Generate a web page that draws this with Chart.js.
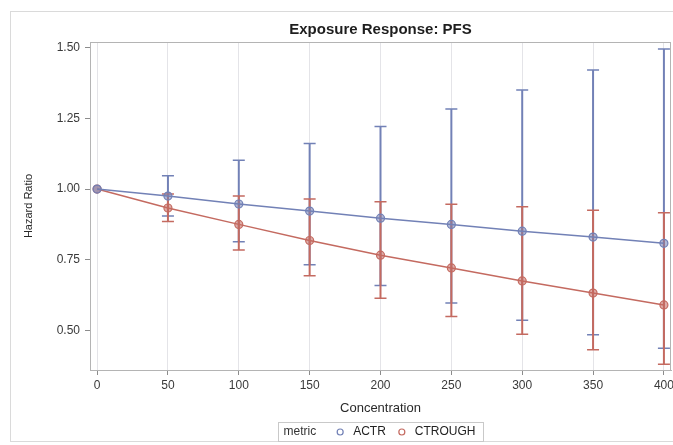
<!DOCTYPE html>
<html>
<head>
<meta charset="utf-8">
<title>Exposure Response: PFS</title>
<script src="https://cdn.jsdelivr.net/npm/chart.js@4"></script>
<style>
  html, body { margin: 0; padding: 0; background: #fff; overflow: hidden; }
  #wrap { position: relative; width: 673px; height: 445px; }
  canvas { display: block; }
</style>
</head>
<body>
<div id="wrap"><canvas id="hrChart"></canvas></div>
<script>
const concentration = [0, 50, 100, 150, 200, 250, 300, 350, 400];

const actrHR    = [1.00, 0.975, 0.947, 0.922, 0.897, 0.875, 0.851, 0.830, 0.808];
const actrLower = [1.00, 0.905, 0.814, 0.732, 0.659, 0.597, 0.536, 0.485, 0.437];
const actrUpper = [1.00, 1.047, 1.102, 1.161, 1.221, 1.283, 1.350, 1.421, 1.495];

const ctroughHR    = [1.00, 0.933, 0.875, 0.818, 0.766, 0.721, 0.675, 0.632, 0.590];
const ctroughLower = [1.00, 0.885, 0.784, 0.693, 0.614, 0.549, 0.486, 0.432, 0.380];
const ctroughUpper = [1.00, 0.982, 0.975, 0.965, 0.955, 0.946, 0.937, 0.925, 0.916];

const xTicks = [0, 50, 100, 150, 200, 250, 300, 350, 400];
const yTicks = [0.50, 0.75, 1.00, 1.25, 1.50];

const blue = "#7281b6";
const red = "#c46a60";

Chart.defaults.font.family = "'Liberation Sans', Arial, sans-serif";

function toPoints(ys) {
  return concentration.map((c, i) => ({ x: c, y: ys[i] }));
}

// vertical whiskers with caps, drawn under the lines and markers
const errorBars = {
  id: "errorBars",
  beforeDatasetsDraw(chart) {
    const { ctx, scales } = chart;
    chart.data.datasets.forEach((ds) => {
      ctx.save();
      ctx.strokeStyle = ds.borderColor;
      ds.errLow.forEach((lo, i) => {
        const hi = ds.errHigh[i];
        if (hi === lo) return;
        const px = scales.x.getPixelForValue(concentration[i]);
        const yLo = scales.y.getPixelForValue(lo);
        const yHi = scales.y.getPixelForValue(hi);
        ctx.lineWidth = 2;
        ctx.beginPath();
        ctx.moveTo(px, yLo);
        ctx.lineTo(px, yHi);
        ctx.stroke();
        ctx.lineWidth = 1.5;
        ctx.beginPath();
        ctx.moveTo(px - 6, yLo);
        ctx.lineTo(px + 6, yLo);
        ctx.moveTo(px - 6, yHi);
        ctx.lineTo(px + 6, yHi);
        ctx.stroke();
      });
      ctx.restore();
    });
  },
};

// outer frame, plot frame, title and the inline legend
const decorations = {
  id: "decorations",
  beforeDraw(chart) {
    const { ctx } = chart;
    ctx.save();
    ctx.strokeStyle = "#dadada";
    ctx.lineWidth = 1;
    ctx.strokeRect(10.5, 11.5, 700, 430);
    ctx.restore();
  },
  afterDraw(chart) {
    const { ctx, chartArea: a } = chart;
    const cx = (a.left + a.right) / 2;
    ctx.save();
    ctx.strokeStyle = "#b4b4b4";
    ctx.lineWidth = 1;
    ctx.strokeRect(a.left + 0.5, a.top + 0.5, a.right - a.left - 1, a.bottom - a.top);

    ctx.fillStyle = "#1e1e1e";
    ctx.font = "bold 15px 'Liberation Sans', Arial, sans-serif";
    ctx.textAlign = "center";
    ctx.textBaseline = "middle";
    ctx.fillText("Exposure Response: PFS", cx, 30);

    // legend
    ctx.font = "12px 'Liberation Sans', Arial, sans-serif";
    ctx.textAlign = "left";
    const items = chart.data.datasets.map((ds) => ({ label: ds.label, color: ds.borderColor }));
    const wTitle = ctx.measureText("metric").width;
    let total = 5 + wTitle + 24;
    items.forEach((it, k) => {
      it.w = ctx.measureText(it.label).width;
      total += 13 + it.w + (k < items.length - 1 ? 16 : 8);
    });
    const left = Math.round(cx - total / 2) + 0.5;
    const top = 422.5, h = 19, my = top + h / 2;
    ctx.strokeStyle = "#c9c9c9";
    ctx.strokeRect(left, top, total, h);
    ctx.fillStyle = "#333";
    let x = left + 5;
    ctx.fillText("metric", x, my);
    x += wTitle + 24;
    items.forEach((it) => {
      ctx.strokeStyle = it.color;
      ctx.lineWidth = 1.2;
      ctx.beginPath();
      ctx.arc(x, my, 3, 0, Math.PI * 2);
      ctx.stroke();
      ctx.fillStyle = "#222";
      ctx.fillText(it.label, x + 13, my);
      x += 13 + it.w + 16;
    });
    ctx.restore();
  },
};

new Chart(document.getElementById("hrChart"), {
  type: "line",
  data: {
    datasets: [
      {
        label: "ACTR",
        data: toPoints(actrHR),
        errLow: actrLower,
        errHigh: actrUpper,
        borderColor: blue,
        backgroundColor: "rgba(114,129,182,0.55)",
        borderWidth: 1.5,
        pointRadius: 4,
        pointBorderWidth: 1.2,
        pointBackgroundColor: "rgba(114,129,182,0.55)",
        pointBorderColor: blue,
      },
      {
        label: "CTROUGH",
        data: toPoints(ctroughHR),
        errLow: ctroughLower,
        errHigh: ctroughUpper,
        borderColor: red,
        backgroundColor: "rgba(196,106,96,0.55)",
        borderWidth: 1.5,
        pointRadius: 4,
        pointBorderWidth: 1.2,
        pointBackgroundColor: "rgba(196,106,96,0.55)",
        pointBorderColor: red,
      },
    ],
  },
  options: {
    responsive: true,
    maintainAspectRatio: false,
    animation: false,
    layout: { autoPadding: false, padding: { left: 10, right: 2, top: 42, bottom: 0 } },
    plugins: {
      legend: { display: false },
      title: { display: false },
      tooltip: { enabled: false },
    },
    scales: {
      x: {
        type: "linear",
        min: -5,
        max: 405,
        afterBuildTicks: (s) => { s.ticks = xTicks.map((v) => ({ value: v })); },
        afterFit: (s) => {
          s.height = 75;
          // let the "400" label run past the plot edge
          s.paddingLeft = 0;
          s.paddingRight = 0;
        },
        grid: { color: "#e4e4e8", tickColor: "#8c8c8c", tickLength: 5 },
        border: { color: "#b4b4b4" },
        ticks: { color: "#3a3a3a", font: { size: 12 }, padding: 3, maxRotation: 0 },
        title: {
          display: true,
          text: "Concentration",
          color: "#2a2a2a",
          font: { size: 13 },
          padding: { top: 0, bottom: 29 },
        },
      },
      y: {
        min: 0.36,
        max: 1.52,
        afterBuildTicks: (s) => { s.ticks = yTicks.map((v) => ({ value: v })); },
        afterFit: (s) => { s.width = 80; },
        grid: { drawOnChartArea: false, tickColor: "#8c8c8c", tickLength: 5 },
        border: { color: "#b4b4b4" },
        ticks: {
          color: "#3a3a3a",
          font: { size: 12 },
          padding: 5,
          callback: (v) => v.toFixed(2),
        },
        title: {
          display: true,
          text: "Hazard Ratio",
          color: "#2a2a2a",
          font: { size: 11 },
          padding: { top: 12, bottom: 0 },
        },
      },
    },
  },
  plugins: [errorBars, decorations],
});
</script>
</body>
</html>
